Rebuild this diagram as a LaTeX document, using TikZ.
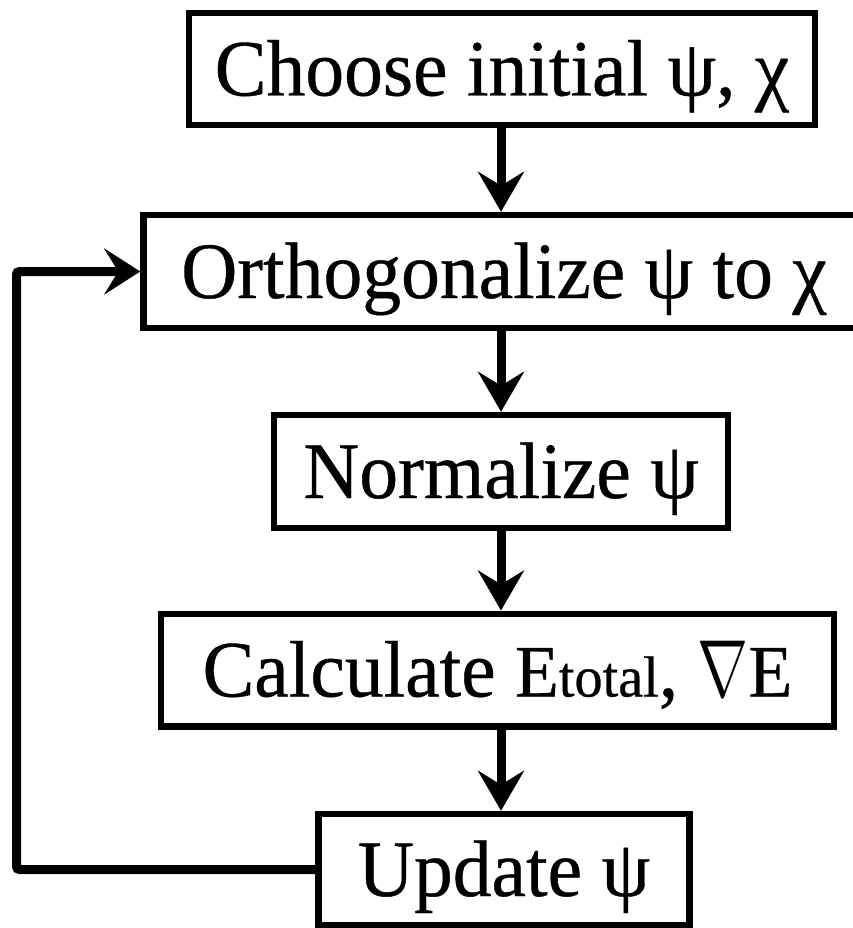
\documentclass[tikz,border=0pt]{standalone}
\usepackage{fontspec}
\setmainfont{Liberation Serif}[FakeBold=0.5]
\usetikzlibrary{arrows.meta}
\newcommand\bigtxt[1]{\scalebox{0.97}[1]{\fontsize{80}{90}\selectfont #1}}
\newcommand\nablasym{\scalebox{6.3}[8.1]{\normalsize$\nabla$}}
\begin{document}
\begin{tikzpicture}[x=1pt,y=-1pt,
  boxnode/.style={draw=black, line width=6.5pt, inner sep=0pt, text depth=0pt, text height=53pt},
  conn/.style={line width=9pt, line cap=round},
  arr/.style={conn, -{Stealth[length=40pt,width=46pt,inset=14pt]}}]
\useasboundingbox (0,0) rectangle (852,928);
\fill[white] (0,0) rectangle (852,928);
\node[boxnode, minimum width=626pt, minimum height=112pt] (b1) at (502,69)
  {\bigtxt{Choose initial ψ, χ}};
\node[boxnode, minimum width=721pt, minimum height=113pt] (b2) at (504,271.5)
  {\bigtxt{Orthogonalize ψ to χ}};
\node[boxnode, minimum width=454pt, minimum height=113pt] (b3) at (501,471.5)
  {\bigtxt{Normalize ψ}};
\node[boxnode, minimum width=673pt, minimum height=112.5pt] (b4) at (497.5,670)
  {\bigtxt{Calculate {\fontsize{74}{80}\selectfont E}{\fontsize{58}{60}\selectfont total}, \nablasym{\fontsize{74}{80}\selectfont E}}};
\node[boxnode, minimum width=371pt, minimum height=111pt] (b5) at (504,869.5)
  {\bigtxt{Update ψ}};
\coordinate (ax) at (501,0);
\coordinate (lx) at (16.5,0);
\draw[arr] (b1.south -| ax) -- (b2.north -| ax);
\draw[arr] (b2.south -| ax) -- (b3.north -| ax);
\draw[arr] (b3.south -| ax) -- (b4.north -| ax);
\draw[arr] (b4.south -| ax) -- (b5.north -| ax);
\draw[conn, rounded corners=3pt, -{Stealth[length=36pt,width=46pt,inset=14pt]}]
  (b5.west) -- (b5.west -| lx) -- (b2.west -| lx) -- (b2.west);
\end{tikzpicture}
\end{document}
